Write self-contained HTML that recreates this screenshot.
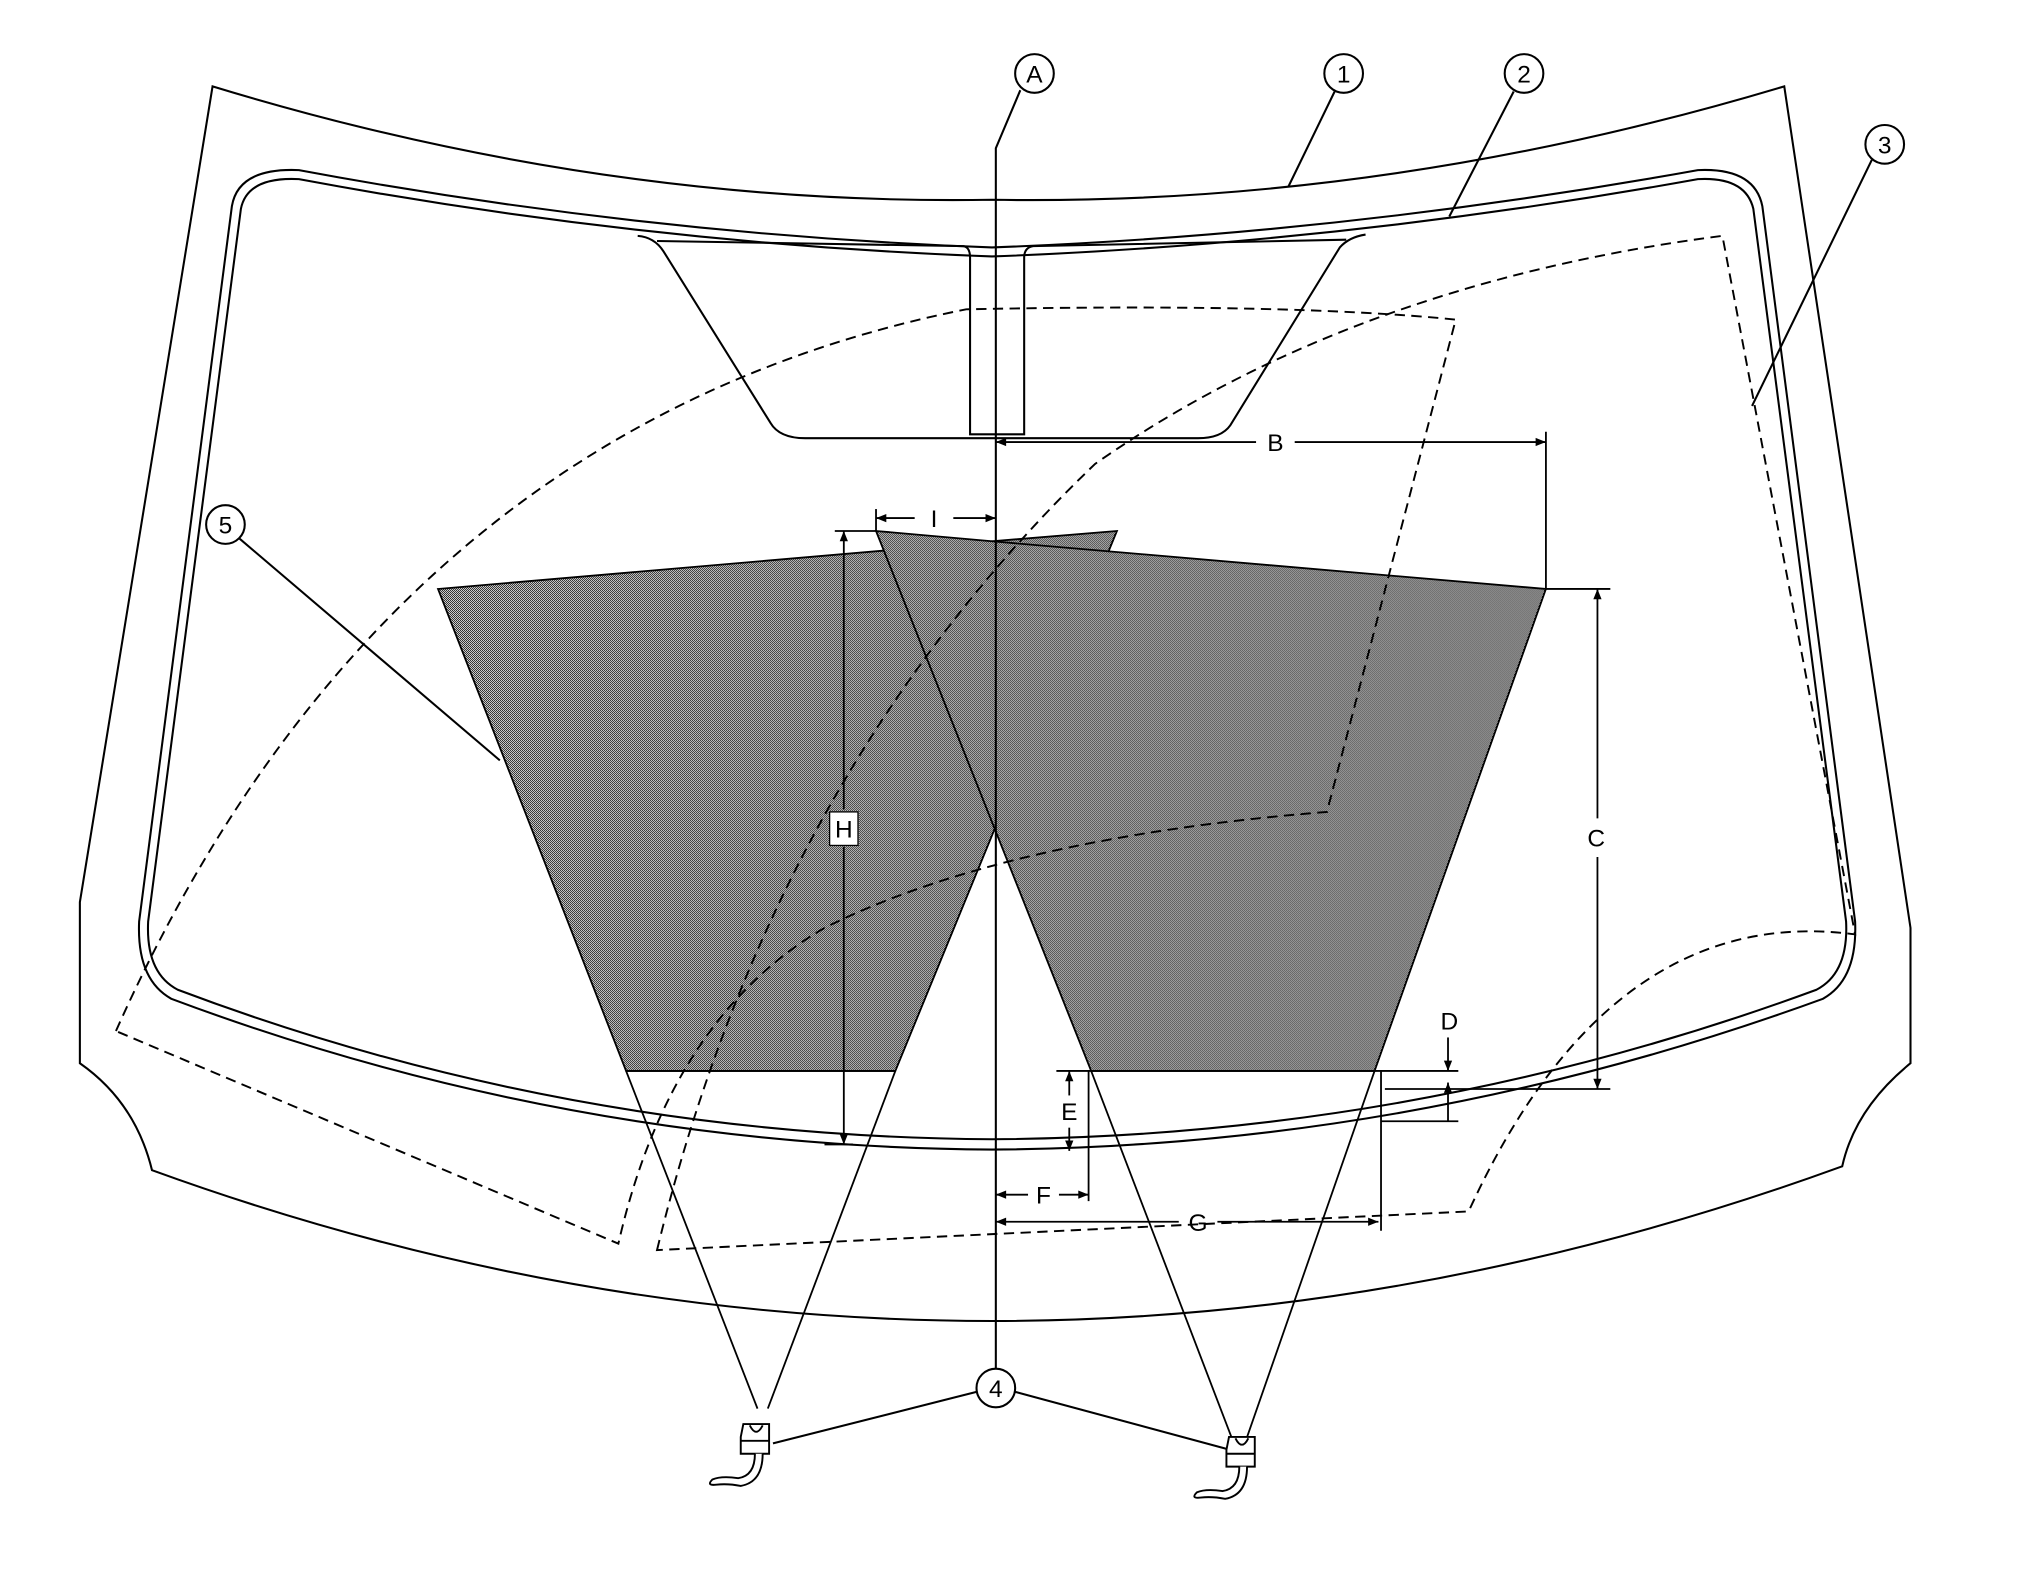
<!DOCTYPE html>
<html><head><meta charset="utf-8"><style>
html,body{margin:0;padding:0;background:#fff}
svg{display:block}
text{font-family:"Liberation Sans",sans-serif;font-size:19px;fill:#000}
</style></head><body>
<svg width="2020" height="1571" viewBox="0 0 1568 1219" preserveAspectRatio="none" xmlns="http://www.w3.org/2000/svg">
<defs>
<marker id="ar" viewBox="0 0 10 10" refX="10" refY="5" markerWidth="12" markerHeight="8" markerUnits="userSpaceOnUse" orient="auto-start-reverse"><path d="M0,1 L10,5 L0,9 z" fill="#000"/></marker>
<pattern id="chk" width="1.552" height="1.552" patternUnits="userSpaceOnUse"><rect width="1.552" height="1.552" fill="#fff"/><rect width="0.776" height="0.776" fill="#000"/><rect x="0.776" y="0.776" width="0.776" height="0.776" fill="#000"/></pattern>
</defs>
<g fill="none" stroke="#000" stroke-width="1.6">
<path d="M165,67 Q470,160 770,155 Q1075,160 1385,67 L1483,720 L1483,825 Q1440,860 1430,905 Q1100,1025 770,1025 Q440,1025 118,908 Q105,855 62,825 L62,700 Z"/>
<path d="M180,160 Q185,130 232,132 Q500,182 770,192 Q1040,182 1318,132 Q1362,130 1368,160 L1440,715 Q1442,760 1415,775 Q1100,890 770,892 Q440,890 133,775 Q106,760 108,715 Z"/>
<path d="M187,162 Q192,137 232,139 Q500,189 770,199 Q1040,189 1318,139 Q1355,137 1361,162 L1433,715 Q1435,755 1410,768 Q1100,882 770,884 Q440,882 138,768 Q113,755 115,715 Z"/>
<path d="M495,183 Q508,184 515,195 L598,328 Q605,340 625,340 L930,340 Q948,340 955,330 L1040,192 Q1047,184 1060,182"/>
<path d="M510,187 L748,191 Q753,192 753,200 L753,337 L795,337 L795,200 Q795,192 802,191 L1045,186"/>
</g>
<g fill="url(#chk)" stroke="#000" stroke-width="1.4">
<polygon points="340,457 770,420 867,412 695,831 486,831"/>
<polygon points="680,412 770,420 1200,457 1067,831 847,831"/>
</g>
<g fill="none" stroke="#000" stroke-width="1.4">
<line x1="486" y1="831" x2="588" y2="1093"/><line x1="695" y1="831" x2="596" y2="1093"/>
<line x1="847" y1="831" x2="957" y2="1118"/><line x1="1067" y1="831" x2="967" y2="1118"/>
<line x1="486" y1="831" x2="695" y2="831"/><line x1="847" y1="831" x2="1067" y2="831"/>
</g>
<g fill="none" stroke="#000" stroke-width="1.5" stroke-dasharray="8,5">
<path d="M90,800 Q300,330 750,240 Q1000,235 1130,248 L1030,630 Q780,650 640,720 Q520,790 480,965 Z"/>
<path d="M510,970 Q600,600 850,360 Q1050,220 1337,183 L1440,725 Q1250,700 1140,940 Z"/>
</g>
<g fill="none" stroke="#000" stroke-width="1.6">
<polyline points="773,1062 773,115 792,70"/>
<line x1="1000" y1="145" x2="1036" y2="71"/>
<line x1="1125" y1="168" x2="1175" y2="71"/>
<line x1="1360" y1="315" x2="1453" y2="124"/>
<line x1="388" y1="590" x2="186" y2="418"/>
<line x1="600" y1="1120" x2="758" y2="1080"/>
<line x1="955" y1="1125" x2="788" y2="1080"/>
</g>
<g fill="#fff" stroke="#000" stroke-width="1.6">
<circle cx="803" cy="57" r="15"/><circle cx="1043" cy="57" r="15"/><circle cx="1183" cy="57" r="15"/>
<circle cx="1463" cy="112" r="15"/><circle cx="773" cy="1077" r="15"/><circle cx="175" cy="407" r="15"/>
</g>
<g text-anchor="middle">
<text x="803" y="64">A</text><text x="1043" y="64">1</text><text x="1183" y="64">2</text>
<text x="1463" y="119">3</text><text x="773" y="1084">4</text><text x="175" y="414">5</text>
</g>
<g fill="none" stroke="#000" stroke-width="1.4">
<line x1="1200" y1="335" x2="1200" y2="457"/>
<line x1="773" y1="343" x2="975" y2="343" marker-start="url(#ar)"/><line x1="1005" y1="343" x2="1200" y2="343" marker-end="url(#ar)"/>
<line x1="680" y1="395" x2="680" y2="412"/>
<line x1="680" y1="402" x2="710" y2="402" marker-start="url(#ar)"/><line x1="740" y1="402" x2="773" y2="402" marker-end="url(#ar)"/>
<line x1="1200" y1="457" x2="1250" y2="457"/><line x1="1075" y1="845" x2="1250" y2="845"/>
<line x1="1240" y1="457" x2="1240" y2="635" marker-start="url(#ar)"/><line x1="1240" y1="665" x2="1240" y2="845" marker-end="url(#ar)"/>
<line x1="648" y1="412" x2="680" y2="412"/><line x1="640" y1="888" x2="662" y2="888"/>
<line x1="655" y1="412" x2="655" y2="628" marker-start="url(#ar)"/><line x1="655" y1="657" x2="655" y2="888" marker-end="url(#ar)"/>
<line x1="1067" y1="831" x2="1132" y2="831"/><line x1="1072" y1="870" x2="1132" y2="870"/>
<line x1="1072" y1="831" x2="1072" y2="955"/>
<line x1="1124" y1="805" x2="1124" y2="831" marker-end="url(#ar)"/><line x1="1124" y1="870" x2="1124" y2="840" marker-end="url(#ar)"/>
<line x1="820" y1="831" x2="847" y2="831"/>
<line x1="830" y1="831" x2="830" y2="850" marker-start="url(#ar)"/><line x1="830" y1="875" x2="830" y2="893" marker-end="url(#ar)"/>
<line x1="845" y1="831" x2="845" y2="932"/>
<line x1="773" y1="927" x2="798" y2="927" marker-start="url(#ar)"/><line x1="822" y1="927" x2="845" y2="927" marker-end="url(#ar)"/>
<line x1="773" y1="948" x2="915" y2="948" marker-start="url(#ar)"/><line x1="945" y1="948" x2="1070" y2="948" marker-end="url(#ar)"/>
</g>
<rect x="644" y="630" width="22" height="26" fill="#fff" stroke="#000" stroke-width="1"/>
<g text-anchor="middle">
<text x="990" y="350">B</text><text x="725" y="409">I</text><text x="1239" y="657">C</text>
<text x="655" y="650">H</text><text x="1125" y="799">D</text><text x="830" y="869">E</text>
<text x="810" y="934">F</text><text x="930" y="955">G</text>
</g>
<g fill="#fff" stroke="#000" stroke-width="1.5">
<path d="M577,1105 L597,1105 L597,1128 L575,1128 L575,1115 Z"/><line x1="575" y1="1118" x2="597" y2="1118"/>
<path d="M582,1106 Q587,1116 592,1106" fill="none"/>
<path d="M586,1128 Q586,1145 573,1147 Q560,1145 553,1148 Q548,1153 556,1152 Q565,1151 575,1153 Q592,1150 592,1128" />
<path d="M954,1115 L974,1115 L974,1138 L952,1138 L952,1125 Z"/><line x1="952" y1="1128" x2="974" y2="1128"/>
<path d="M959,1116 Q964,1126 969,1116" fill="none"/>
<path d="M962,1138 Q962,1155 949,1157 Q936,1155 929,1158 Q924,1163 932,1162 Q941,1161 951,1163 Q968,1160 968,1138" />
</g>
</svg>
</body></html>
